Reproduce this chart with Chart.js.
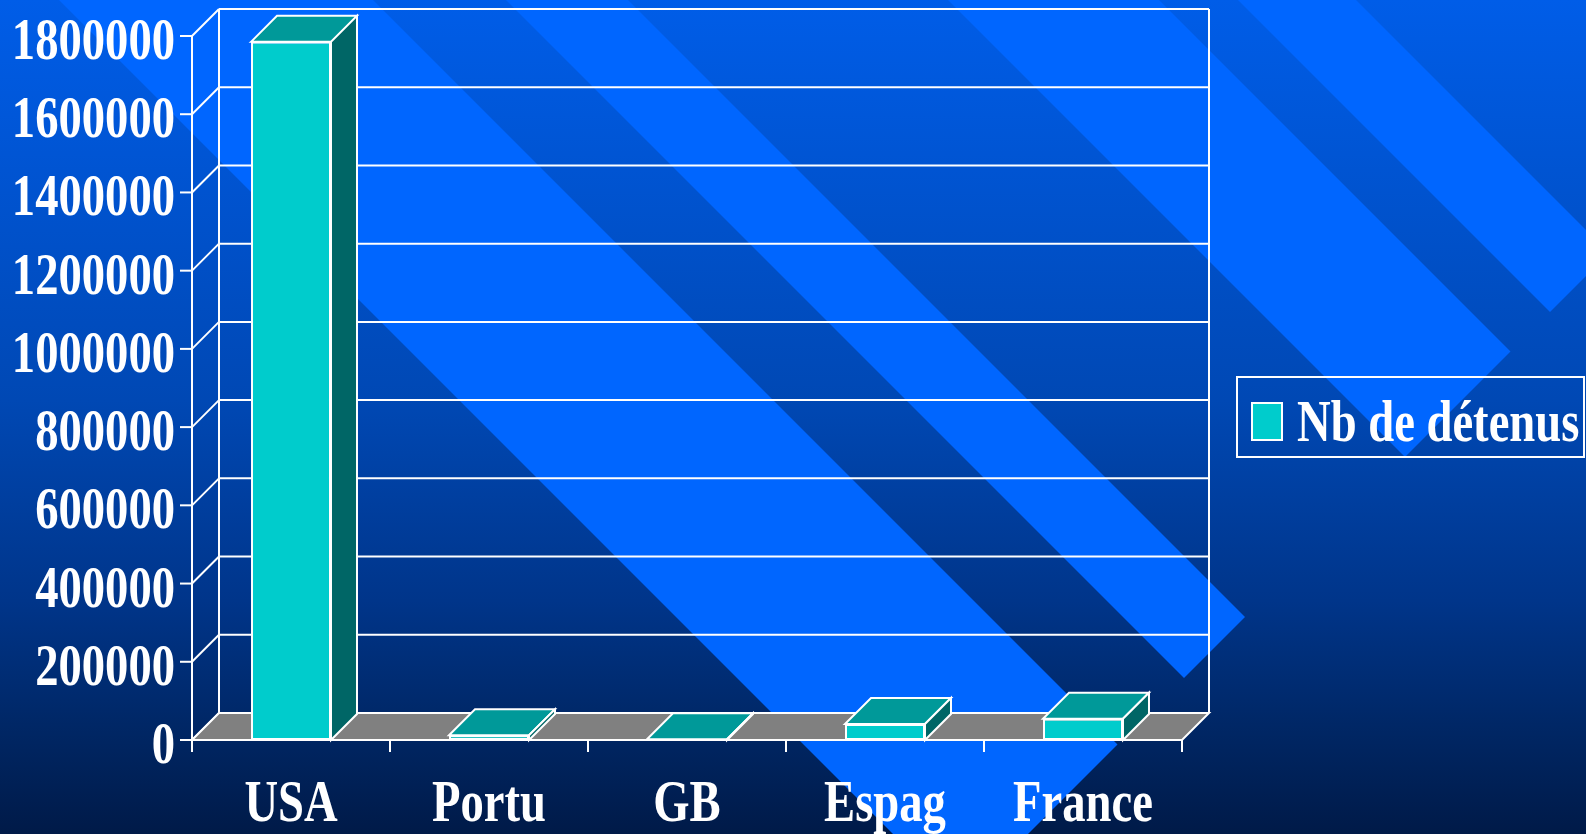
<!DOCTYPE html>
<html>
<head>
<meta charset="utf-8">
<script src="https://cdn.jsdelivr.net/npm/chart.js@4.4.1/dist/chart.umd.min.js"></script>
<style>
  html, body { margin: 0; padding: 0; background: #001a48; overflow: hidden; }
  canvas { display: block; }
</style>
</head>
<body>
<canvas id="chart" width="1586" height="834"></canvas>
<script>
// Prison population by country
const categories = ['USA', 'Portu', 'GB', 'Espag', 'France'];
const detenus = [1785000, 12000, 2000, 41000, 54500];
const seriesLabel = 'Nb de détenus';
const yMin = 0;
const yMax = 1800000;
const yStep = 200000;

// 3D look
const WALL_DEPTH = 27;
const BAR_DEPTH = 26;
const FRONT = '#00cccc';
const TOP = '#009999';
const SIDE = '#006666';
const FLOOR = '#808080';
const LINE = '#ffffff';
const FONT = 'bold 59px "Liberation Serif", "Times New Roman", serif';
const SQUEEZE = 0.79;

function squeezedText(ctx, text, x, y, align) {
  ctx.save();
  ctx.translate(x, y);
  ctx.scale(SQUEEZE, 1);
  ctx.font = FONT;
  ctx.fillStyle = '#ffffff';
  ctx.textAlign = align;
  ctx.textBaseline = 'alphabetic';
  ctx.fillText(text, 0, 0);
  ctx.restore();
}

function seg(ctx, x1, y1, x2, y2) {
  ctx.beginPath();
  ctx.moveTo(x1, y1);
  ctx.lineTo(x2, y2);
  ctx.stroke();
}

function poly(ctx, pts, fill) {
  ctx.beginPath();
  pts.forEach(([px, py], i) => i ? ctx.lineTo(px, py) : ctx.moveTo(px, py));
  ctx.closePath();
  ctx.fillStyle = fill;
  ctx.fill();
  ctx.stroke();
}

// Slide background: vertical blue gradient with diagonal stripes
const backdrop = {
  id: 'backdrop',
  beforeDraw(chart) {
    const { ctx, width, height } = chart;
    ctx.save();
    const g = ctx.createLinearGradient(0, 0, 0, height);
    g.addColorStop(0, '#005de8');
    g.addColorStop(0.48, '#0048b4');
    g.addColorStop(0.72, '#00358a');
    g.addColorStop(0.86, '#002868');
    g.addColorStop(1, '#001a48');
    ctx.fillStyle = g;
    ctx.fillRect(0, 0, width, height);

    // stripes given as ranges of (x - y), all cut square at x + y = 1862
    const stripes = [[59, 373], [506, 628], [948, 1159], [1238, 1356]];
    const sStart = -2000, sEnd = 1862;
    const pt = (c, s) => [(s + c) / 2, (s - c) / 2];
    ctx.fillStyle = '#0066ff';
    stripes.forEach(([c1, c2]) => {
      ctx.beginPath();
      [[c1, sStart], [c2, sStart], [c2, sEnd], [c1, sEnd]].forEach(([c, s], i) => {
        const [px, py] = pt(c, s);
        i ? ctx.lineTo(px, py) : ctx.moveTo(px, py);
      });
      ctx.closePath();
      ctx.fill();
    });
    ctx.restore();
  }
};

// Back wall, side wall, floor and axis ticks
const walls = {
  id: 'walls',
  beforeDatasetsDraw(chart) {
    const { ctx, chartArea: a, scales: { x, y } } = chart;
    const D = WALL_DEPTH;
    const y0 = y.getPixelForValue(yMin);
    const yTop = y.getPixelForValue(yMax);
    ctx.save();
    ctx.strokeStyle = LINE;
    ctx.lineWidth = 2;
    ctx.lineJoin = 'miter';

    y.ticks.forEach(t => {
      const py = y.getPixelForValue(t.value);
      if (t.value !== yMin) seg(ctx, a.left + D, py - D, a.right + D, py - D);
      seg(ctx, a.left, py, a.left + D, py - D);
      seg(ctx, a.left - 12, py, a.left, py);
    });
    seg(ctx, a.left + D, yTop - D, a.left + D, y0 - D);
    seg(ctx, a.right + D, yTop - D, a.right + D, y0 - D);

    poly(ctx, [[a.left, y0], [a.left + D, y0 - D], [a.right + D, y0 - D], [a.right, y0]], FLOOR);

    seg(ctx, a.left, yTop, a.left, y0 + 12);
    const n = categories.length;
    for (let i = 1; i <= n; i++) {
      const bx = i < n
        ? (x.getPixelForTick(i - 1) + x.getPixelForTick(i)) / 2
        : a.right;
      seg(ctx, bx, y0, bx, y0 + 12);
    }
    ctx.restore();
  },
  afterDatasetsDraw(chart) {
    const { ctx } = chart;
    const B = BAR_DEPTH;
    ctx.save();
    ctx.strokeStyle = LINE;
    ctx.lineWidth = 2;
    chart.getDatasetMeta(0).data.forEach(bar => {
      const { x, y, base, width } = bar.getProps(['x', 'y', 'base', 'width'], true);
      const l = x - width / 2, r = x + width / 2;
      poly(ctx, [[l, y], [l + B, y - B], [r + B, y - B], [r, y]], TOP);
      poly(ctx, [[r, y], [r + B, y - B], [r + B, base - B], [r, base]], SIDE);
    });
    ctx.restore();
  },
  afterDraw(chart) {
    const { ctx, scales: { x, y } } = chart;
    const y0 = y.getPixelForValue(yMin);
    // value axis labels
    y.ticks.forEach(t => {
      squeezedText(ctx, String(t.value), 175, y.getPixelForValue(t.value) + 23, 'right');
    });
    // category labels
    x.ticks.forEach((t, i) => {
      squeezedText(ctx, categories[i], x.getPixelForTick(i), y0 + 81, 'center');
    });
    // legend
    ctx.save();
    ctx.strokeStyle = LINE;
    ctx.lineWidth = 2;
    ctx.strokeRect(1237, 377, 347, 80);
    ctx.fillStyle = chart.data.datasets[0].backgroundColor;
    ctx.fillRect(1252, 403, 30, 37);
    ctx.strokeRect(1252, 403, 30, 37);
    ctx.restore();
    squeezedText(ctx, chart.data.datasets[0].label, 1297, 441, 'left');
  }
};

new Chart(document.getElementById('chart'), {
  type: 'bar',
  data: {
    labels: categories,
    datasets: [{
      label: seriesLabel,
      data: detenus,
      backgroundColor: FRONT,
      borderColor: LINE,
      borderWidth: 2,
      borderSkipped: false,
      barPercentage: 0.404,
      categoryPercentage: 1.0
    }]
  },
  options: {
    responsive: false,
    animation: false,
    devicePixelRatio: 1,
    layout: { padding: { left: 192, right: 404, top: 36, bottom: 94 } },
    plugins: { legend: { display: false }, tooltip: { enabled: false } },
    scales: {
      x: { display: false, offset: true },
      y: { display: false, min: yMin, max: yMax, ticks: { stepSize: yStep } }
    }
  },
  plugins: [backdrop, walls]
});
</script>
</body>
</html>
